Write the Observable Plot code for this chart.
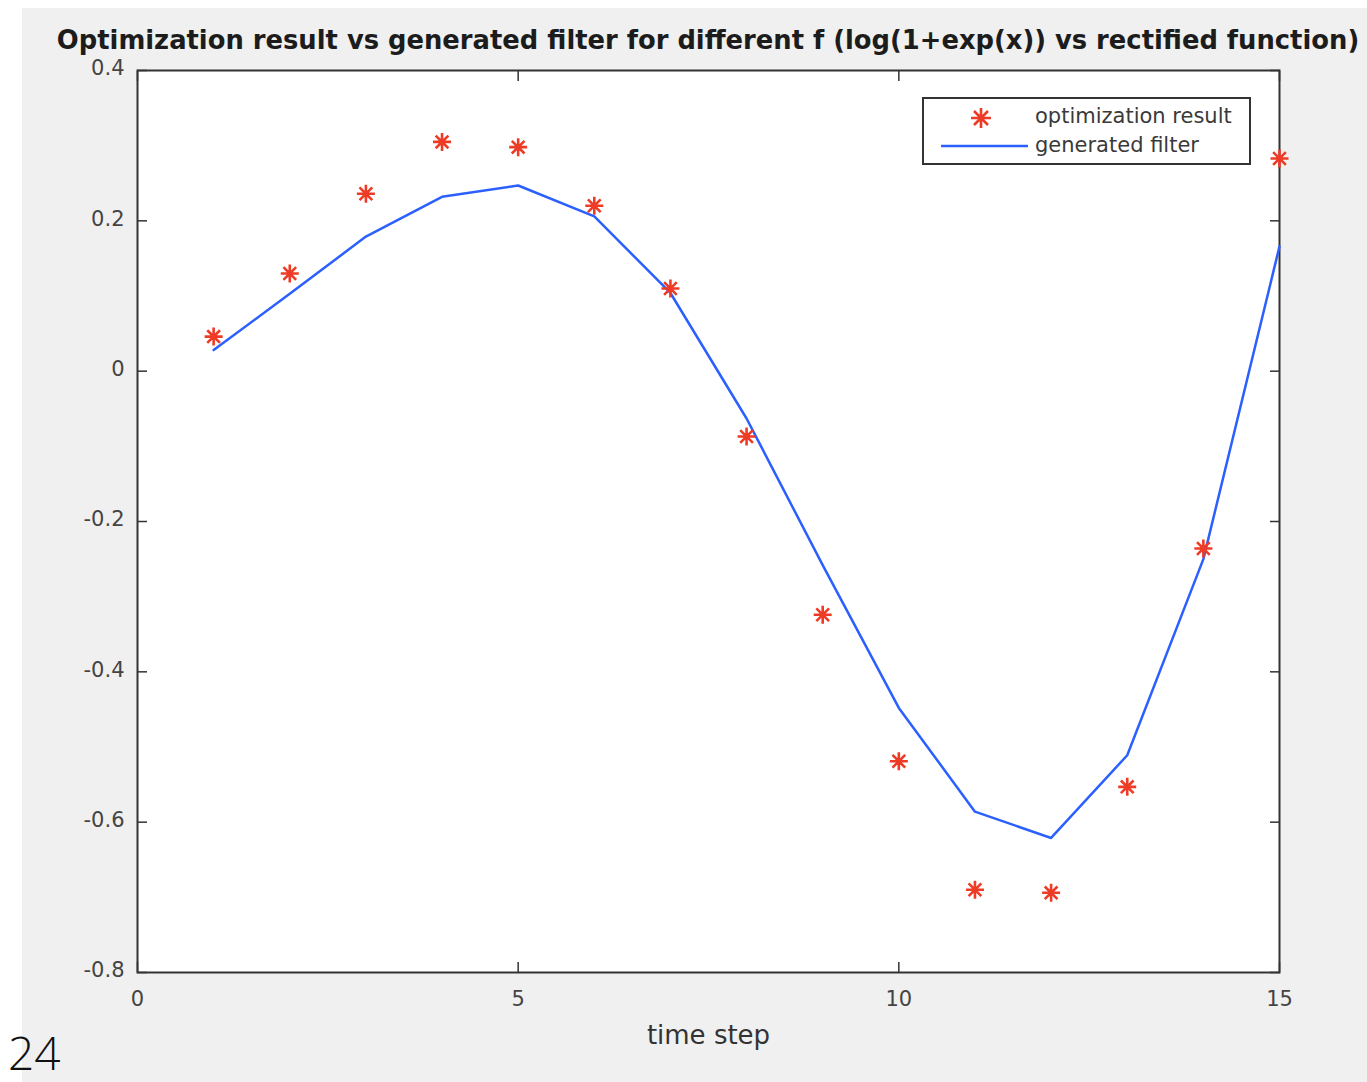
<!DOCTYPE html>
<html>
<head>
<meta charset="utf-8">
<script src="https://cdn.jsdelivr.net/npm/d3@7"></script>
<script src="https://cdn.jsdelivr.net/npm/@observablehq/plot@0.6"></script>
<style>
  html, body { margin: 0; padding: 0; background: #fff; }
  #wrap { position: relative; width: 1367px; height: 1082px; overflow: hidden; background: #fff; font-family: "DejaVu Sans", sans-serif; }
  #fig { position: absolute; left: 22px; top: 8px; width: 1345px; height: 1074px; background: #f0f0f0; }
  #chart { position: absolute; left: 0; top: 0; }
  #title { position: absolute; left: 0; width: 1416px; top: 25px; text-align: center; font-weight: bold; font-size: 25.8px; line-height: 30px; color: #1c1c1c; white-space: nowrap; }
  #page { position: absolute; left: 8px; top: 1029px; font-family: "Open Sans", Roboto, sans-serif; font-weight: 300; font-size: 46px; line-height: 46px; color: #111; }
  #legend { position: absolute; left: 922px; top: 97px; width: 325px; height: 64px; border: 2px solid #333; background: #fff; box-sizing: content-box; }
  #legend .row { position: absolute; left: 0; height: 30px; width: 325px; }
  #legend svg { position: absolute; left: 0; top: 0; }
  #legend .lab { position: absolute; left: 111px; font-size: 21px; line-height: 28px; color: #3a3a3a; white-space: nowrap; }
</style>
</head>
<body>
<div id="wrap">
  <div id="fig"></div>
  <div id="chart"></div>
  <div id="title"></div>
  <div id="legend"></div>
  <div id="page"></div>
</div>
<script>
// ---- data ----
const titleText = "Optimization result vs generated filter for different f (log(1+exp(x)) vs rectified function)";
const xLabel = "time step";
const pageNumber = "24";
const seriesNames = ["optimization result", "generated filter"];
const timeSteps = [1, 2, 3, 4, 5, 6, 7, 8, 9, 10, 11, 12, 13, 14, 15];
const optimizationResult = [0.046, 0.130, 0.236, 0.305, 0.298, 0.220, 0.110, -0.087, -0.324, -0.519, -0.690, -0.694, -0.553, -0.236, 0.283];
const generatedFilter = [0.028, 0.103, 0.179, 0.232, 0.247, 0.206, 0.104, -0.063, -0.258, -0.448, -0.586, -0.621, -0.511, -0.250, 0.166];
const xTicks = [0, 5, 10, 15];
const xTickLabels = ["0", "5", "10", "15"];
const yTicks = [-0.8, -0.6, -0.4, -0.2, 0, 0.2, 0.4];
const yTickLabels = ["-0.8", "-0.6", "-0.4", "-0.2", "0", "0.2", "0.4"];

const RED = "#ee3b26";
const BLUE = "#2b60ff";

const rows = timeSteps.map((t, i) => ({t, opt: optimizationResult[i], gen: generatedFilter[i]}));

// MATLAB-like asterisk marker (+ and x)
const star = {
  draw(context, size) {
    const r = Math.sqrt(size / Math.PI);
    const d = r * Math.SQRT1_2;
    context.moveTo(-r, 0); context.lineTo(r, 0);
    context.moveTo(0, -r); context.lineTo(0, r);
    context.moveTo(-d, -d); context.lineTo(d, d);
    context.moveTo(-d, d); context.lineTo(d, -d);
  }
};

const xFmt = d => xTickLabels[xTicks.indexOf(d)];
const yFmt = d => yTickLabels[yTicks.indexOf(d)];

const chart = Plot.plot({
  width: 1367,
  height: 1082,
  marginLeft: 137,
  marginRight: 88,
  marginTop: 70,
  marginBottom: 110,
  style: { background: "transparent", fontFamily: "DejaVu Sans, sans-serif", fontSize: "21px", color: "#333" },
  x: { domain: [0, 15] },
  y: { domain: [-0.8, 0.4] },
  marks: [
    Plot.frame({ fill: "white" }),
    // tick labels
    Plot.axisX({ anchor: "bottom", ticks: xTicks, tickSize: 0, tickPadding: 19, tickFormat: xFmt, label: null, fontSize: 21, fill: "#444" }),
    Plot.axisY({ anchor: "left", ticks: yTicks, tickSize: 0, tickPadding: 13, dy: -2, tickFormat: yFmt, label: null, fontSize: 21, fill: "#444" }),
    // inward ticks on all sides
    Plot.axisX({ anchor: "bottom", ticks: xTicks, tickSize: -10, tickFormat: () => "", label: null, stroke: "#333", strokeWidth: 1.5, strokeOpacity: 1 }),
    Plot.axisX({ anchor: "top", ticks: xTicks, tickSize: -10, tickFormat: () => "", label: null, stroke: "#333", strokeWidth: 1.5, strokeOpacity: 1 }),
    Plot.axisY({ anchor: "left", ticks: yTicks, tickSize: -10, tickFormat: () => "", label: null, stroke: "#333", strokeWidth: 1.5, strokeOpacity: 1 }),
    Plot.axisY({ anchor: "right", ticks: yTicks, tickSize: -10, tickFormat: () => "", label: null, stroke: "#333", strokeWidth: 1.5, strokeOpacity: 1 }),
    Plot.frame({ stroke: "#333", strokeWidth: 2 }),
    Plot.line(rows, { x: "t", y: "gen", stroke: BLUE, strokeWidth: 2.5 }),
    Plot.dot(rows, { x: "t", y: "opt", symbol: star, r: 9, stroke: RED, strokeWidth: 2.6 }),
    Plot.text([xLabel], { frameAnchor: "bottom", dy: 71, text: d => d, fontSize: 26, fill: "#333" })
  ]
});
document.getElementById("chart").appendChild(chart);

document.getElementById("title").textContent = titleText;
document.getElementById("page").textContent = pageNumber;

// legend
const legend = document.getElementById("legend");
legend.innerHTML = `
  <div class="row" style="top:3px">
    <svg width="110" height="30"><path d="M57,6V26M47,16H67M50,9L64,23M50,23L64,9" stroke="${RED}" stroke-width="2.6" fill="none"/></svg>
    <div class="lab" style="top:0">${seriesNames[0]}</div>
  </div>
  <div class="row" style="top:32px">
    <svg width="110" height="30"><path d="M17,15H104" stroke="${BLUE}" stroke-width="2.5" fill="none"/></svg>
    <div class="lab" style="top:0">${seriesNames[1]}</div>
  </div>`;
</script>
</body>
</html>
